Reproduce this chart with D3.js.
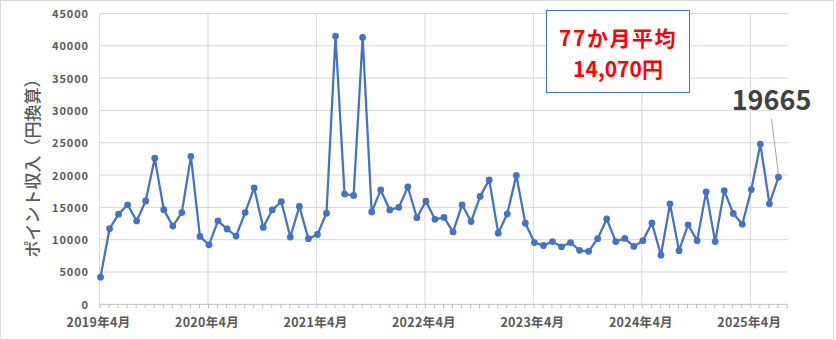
<!DOCTYPE html>
<html><head><meta charset="utf-8">
<script src="https://cdn.jsdelivr.net/npm/d3@7"></script>
<style>
html,body{margin:0;padding:0;background:#fff;}
svg{display:block;}
</style></head>
<body>
<svg id="chart" width="836" height="340"></svg>
<script>
const categories = [
"2019-04","2019-05","2019-06","2019-07","2019-08","2019-09","2019-10","2019-11","2019-12","2020-01","2020-02","2020-03",
"2020-04","2020-05","2020-06","2020-07","2020-08","2020-09","2020-10","2020-11","2020-12","2021-01","2021-02","2021-03",
"2021-04","2021-05","2021-06","2021-07","2021-08","2021-09","2021-10","2021-11","2021-12","2022-01","2022-02","2022-03",
"2022-04","2022-05","2022-06","2022-07","2022-08","2022-09","2022-10","2022-11","2022-12","2023-01","2023-02","2023-03",
"2023-04","2023-05","2023-06","2023-07","2023-08","2023-09","2023-10","2023-11","2023-12","2024-01","2024-02","2024-03",
"2024-04","2024-05","2024-06","2024-07","2024-08","2024-09","2024-10","2024-11","2024-12","2025-01","2025-02","2025-03",
"2025-04","2025-05","2025-06","2025-07","2025-08"];
const values = [
4200,11700,13950,15400,12900,16000,22600,14650,12100,14200,22900,10500,
9200,12900,11650,10550,14200,18000,11900,14600,15900,10400,15150,10150,
10800,14100,41500,17050,16850,41300,14300,17700,14600,15000,18150,13400,
15950,13150,13450,11200,15400,12800,16700,19250,11000,14000,19950,12550,
9550,9100,9700,8900,9550,8350,8200,10150,13200,9700,10200,8950,
9850,12600,7600,15550,8300,12300,9850,17400,9700,17600,14050,12400,
17750,24800,15550,19665];
const tickCategories = ["2019-04","2020-04","2021-04","2022-04","2023-04","2024-04","2025-04"];
const tickLabels = ["2019年4月","2020年4月","2021年4月","2022年4月","2023年4月","2024年4月","2025年4月"];
const yTicks = [0,5000,10000,15000,20000,25000,30000,35000,40000,45000];
const yTitle = "ポイント収入（円換算）";
const boxLines = ["77か月平均","14,070円"];
const lastLabel = "19665";

const svg = d3.select("#chart");
const font = "'Noto Sans CJK JP','Noto Sans',sans-serif";

// outer border
svg.append("rect").attr("x",0.5).attr("y",0.5).attr("width",833).attr("height",339)
  .attr("fill","#fff").attr("stroke","#d9d9d9").attr("stroke-width",1);

const x = d3.scalePoint().domain(categories).range([100.5, 787.5]);
const y = d3.scaleLinear().domain([0,45000]).range([304.3, 13.5]);

// horizontal gridlines
svg.append("g").selectAll("line").data(yTicks.filter(d=>d>0)).join("line")
  .attr("x1",100).attr("x2",788).attr("y1",d=>y(d)).attr("y2",d=>y(d))
  .attr("stroke","#d9d9d9").attr("stroke-width",1);
// vertical gridlines
svg.append("g").selectAll("line").data(tickCategories).join("line")
  .attr("x1",d=>x(d)-1).attr("x2",d=>x(d)-1).attr("y1",y(45000)).attr("y2",y(0))
  .attr("stroke","#d9d9d9").attr("stroke-width",1);

// x axis with minor ticks
const xAxis = d3.axisBottom(x).tickSize(4).tickFormat("");
const gx = svg.append("g").attr("transform",`translate(-1,${y(0)})`).call(xAxis);
gx.select(".domain").attr("stroke","#bfbfbf").attr("d","M100.5,0H788.5");
gx.selectAll(".tick line").attr("stroke","#bfbfbf");

// x labels
svg.append("g").selectAll("text").data(tickCategories).join("text")
  .attr("x",d=>x(d)-2).attr("y",327)
  .attr("text-anchor","middle").attr("font-family",font).attr("font-weight","bold")
  .attr("font-size","12.5px").attr("fill","#595959").attr("letter-spacing","0.3px")
  .text((d,i)=>tickLabels[i]);

// y axis labels
const yAxis = d3.axisLeft(y).tickValues(yTicks).tickSize(0).tickPadding(0).tickFormat(d3.format("d"));
const gy = svg.append("g").attr("transform","translate(89,0)").call(yAxis);
gy.select(".domain").remove();
gy.selectAll(".tick text").attr("font-family",font).attr("font-weight","bold")
  .attr("font-size","11px").attr("fill","#595959").attr("letter-spacing","0.9px")
  .attr("dy","0.36em");

// y axis line (left)
svg.append("line").attr("x1",99.5).attr("x2",99.5).attr("y1",y(45000)).attr("y2",y(0)+4)
  .attr("stroke","#d9d9d9");

// y title
svg.append("text").attr("transform","translate(39,164) rotate(-90)")
  .attr("text-anchor","middle").attr("font-family",font).attr("font-size","17px")
  .attr("font-weight","500")
  .attr("fill","#595959").text(yTitle);

// line
const data = values.map((v,i)=>({c:categories[i], v}));
svg.append("path").datum(data)
  .attr("fill","none").attr("stroke","#4472C4").attr("stroke-width",2.25)
  .attr("stroke-linejoin","round")
  .attr("d", d3.line().x(d=>x(d.c)).y(d=>y(d.v)));
svg.append("g").selectAll("circle").data(data).join("circle")
  .attr("cx",d=>x(d.c)).attr("cy",d=>y(d.v)).attr("r",3.4).attr("fill","#4472C4");

// data label leader line + text
const last = data[data.length-1];
svg.append("line").attr("x1",771.5).attr("y1",119).attr("x2",x(last.c)).attr("y2",y(last.v)-3)
  .attr("stroke","#a6a6a6").attr("stroke-width",1);
svg.append("text").attr("x",771.5).attr("y",109.5).attr("text-anchor","middle")
  .attr("font-family",font).attr("font-weight","bold").attr("font-size","27px")
  .attr("fill","#404040").text(lastLabel);

// average box
svg.append("rect").attr("x",546.5).attr("y",10.5).attr("width",143).attr("height",82)
  .attr("fill","#fff").attr("stroke","#4472C4").attr("stroke-width",1);
svg.append("g").selectAll("text").data(boxLines).join("text")
  .attr("x",618).attr("y",(d,i)=>[45.5,77][i]).attr("text-anchor","middle")
  .attr("font-family",font).attr("font-weight","bold").attr("font-size","21px")
  .attr("fill","#ff0000").attr("letter-spacing",(d,i)=>i===0?"1.5px":"0px")
  .text(d=>d);
</script>
</body></html>
